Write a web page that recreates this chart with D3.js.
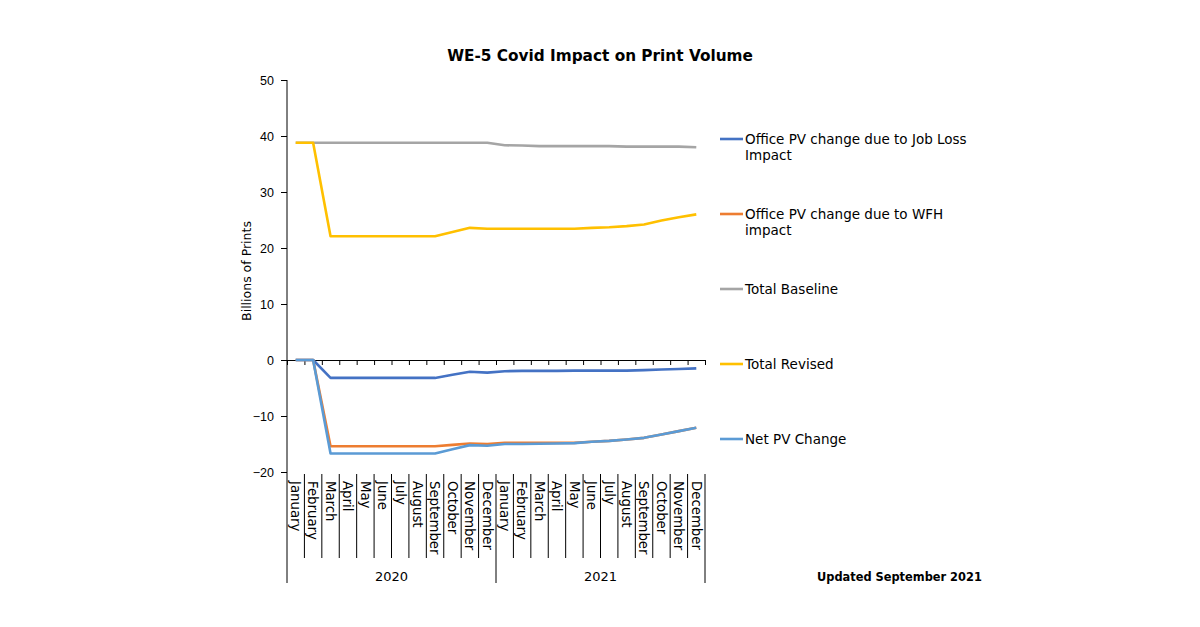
<!DOCTYPE html>
<html>
<head>
<meta charset="utf-8">
<script src="https://cdn.jsdelivr.net/npm/d3@7"></script>
<style>
  body { margin: 0; background: #fff; }
  svg { font-family: "DejaVu Sans", "Open Sans", sans-serif; }
</style>
</head>
<body>
<svg id="chart" width="1200" height="627"></svg>
<script>
// months shown along the bottom, grouped by year
const months = ["January", "February", "March", "April", "May", "June", "July",
  "August", "September", "October", "November", "December"];
const years = ["2020", "2021"];
const yTicks = [50, 40, 30, 20, 10, 0, -10, -20];

// series values, billions of prints, Jan 2020 .. Dec 2021
const jobLoss = [0, 0, -3.2, -3.2, -3.2, -3.2, -3.2, -3.2, -3.2, -2.65, -2.1, -2.25,
  -2.0, -1.95, -1.95, -1.95, -1.9, -1.9, -1.9, -1.9, -1.8, -1.7, -1.6, -1.5];
const wfh = [0, 0, -15.4, -15.4, -15.4, -15.4, -15.4, -15.4, -15.4, -15.15, -14.9, -15.0,
  -14.8, -14.8, -14.8, -14.8, -14.8, -14.6, -14.45, -14.2, -13.9, -13.3, -12.7, -12.1];
const baseline = [38.8, 38.8, 38.8, 38.8, 38.8, 38.8, 38.8, 38.8, 38.8, 38.8, 38.8, 38.8,
  38.35, 38.3, 38.2, 38.2, 38.2, 38.2, 38.2, 38.1, 38.1, 38.1, 38.1, 38.0];
const revised = [38.8, 38.8, 22.1, 22.1, 22.1, 22.1, 22.1, 22.1, 22.1, 22.85, 23.6, 23.45,
  23.45, 23.45, 23.45, 23.45, 23.45, 23.6, 23.7, 23.9, 24.2, 24.9, 25.5, 26.0];
const netChange = [0, 0, -16.7, -16.7, -16.7, -16.7, -16.7, -16.7, -16.7, -15.95, -15.2, -15.3,
  -15.0, -15.0, -14.95, -14.9, -14.85, -14.6, -14.45, -14.2, -13.9, -13.3, -12.7, -12.1];

const seriesNames = ["Office PV change due to Job Loss Impact", "Office PV change due to WFH impact",
  "Total Baseline", "Total Revised", "Net PV Change"];
const seriesValues = [jobLoss, wfh, baseline, revised, netChange];
const colors = ["#4472C4", "#ED7D31", "#A5A5A5", "#FFC000", "#5B9BD5"];

const svg = d3.select("#chart");
const plotLeft = 287, plotRight = 705, plotTop = 80, plotBottom = 472;
const n = years.length * months.length;

const x = d3.scaleLinear().domain([0, n]).range([plotLeft, plotRight]);
const y = d3.scaleLinear().domain([-20, 50]).range([plotBottom, plotTop]);

// title
svg.append("text")
  .attr("x", 600).attr("y", 61)
  .attr("text-anchor", "middle")
  .style("font-size", "15.3px").style("font-weight", "bold")
  .text("WE-5 Covid Impact on Print Volume");

// y axis
const yAxis = svg.append("g")
  .attr("transform", `translate(${plotLeft},0)`)
  .call(d3.axisLeft(y).tickValues(yTicks).tickSize(6).tickSizeOuter(0).tickPadding(7));
yAxis.select(".domain").remove();
yAxis.selectAll("text").style("font-size", "12.5px").attr("fill", "#000");
yAxis.selectAll("line").attr("stroke", "#000");

// axis line runs down through the category labels
svg.append("line")
  .attr("x1", plotLeft).attr("x2", plotLeft)
  .attr("y1", y(50)).attr("y2", 583)
  .attr("stroke", "#000");

svg.append("text")
  .attr("transform", `translate(247,${(plotTop + plotBottom) / 2 - 5}) rotate(-90)`)
  .attr("text-anchor", "middle")
  .attr("dy", "0.35em")
  .style("font-size", "12.5px")
  .text("Billions of Prints");

// category axis crossing at zero
const boundaries = d3.range(0, n + 1);
const zeroAxis = svg.append("g")
  .attr("transform", `translate(0,${y(0)})`)
  .call(d3.axisBottom(x).tickValues(boundaries).tickFormat("").tickSize(5).tickSizeOuter(0));
zeroAxis.selectAll("line, path").attr("stroke", "#000");

// month labels and separators at the bottom
const cats = [];
years.forEach(yr => months.forEach(m => cats.push({ year: yr, month: m })));

svg.append("g").selectAll("line")
  .data(boundaries.filter(b => b > 0 && b < n && b % 12 !== 0))
  .join("line")
  .attr("x1", d => x(d)).attr("x2", d => x(d))
  .attr("y1", plotBottom + 2).attr("y2", 558)
  .attr("stroke", "#000");

svg.append("g").selectAll("line")
  .data(boundaries.filter(b => b % 12 === 0 && b > 0))
  .join("line")
  .attr("x1", d => x(d)).attr("x2", d => x(d))
  .attr("y1", plotBottom + 2).attr("y2", 583)
  .attr("stroke", "#000");

svg.append("g").selectAll("text")
  .data(cats)
  .join("text")
  .attr("transform", (d, i) => `translate(${x(i + 0.5)},${plotBottom + 9}) rotate(90)`)
  .attr("dy", "0.35em")
  .style("font-size", "13.3px")
  .text(d => d.month);

svg.append("g").selectAll("text")
  .data(years)
  .join("text")
  .attr("x", (d, i) => x(i * 12 + 6))
  .attr("y", 581)
  .attr("text-anchor", "middle")
  .style("font-size", "13px")
  .text(d => d);

// lines
const line = d3.line()
  .x((d, i) => x(i + 0.5))
  .y(d => y(d));

svg.append("g").selectAll("path")
  .data(seriesValues)
  .join("path")
  .attr("d", d => line(d))
  .attr("fill", "none")
  .attr("stroke", (d, i) => colors[i])
  .attr("stroke-width", 2.6)
  .attr("stroke-linejoin", "round");

// legend
const legend = svg.append("g").attr("transform", "translate(720,139)");
const items = legend.selectAll("g")
  .data(seriesNames)
  .join("g")
  .attr("transform", (d, i) => `translate(0,${i * 75})`);

items.append("line")
  .attr("x1", 0).attr("x2", 23)
  .attr("stroke", (d, i) => colors[i])
  .attr("stroke-width", 2.6);

items.append("text")
  .attr("x", 25)
  .style("font-size", "13.5px")
  .each(function (d) {
    const t = d3.select(this);
    const words = d.split(" ");
    const lines = d.length > 30 ? [words.slice(0, -1).join(" "), words[words.length - 1]] : [d];
    lines.forEach((l, k) => {
      t.append("tspan").attr("x", 25).attr("dy", k === 0 ? "0.35em" : "16").text(l);
    });
  });

svg.append("text")
  .attr("x", 817).attr("y", 581)
  .style("font-size", "11.4px").style("font-weight", "bold")
  .text("Updated September 2021");
</script>
</body>
</html>
